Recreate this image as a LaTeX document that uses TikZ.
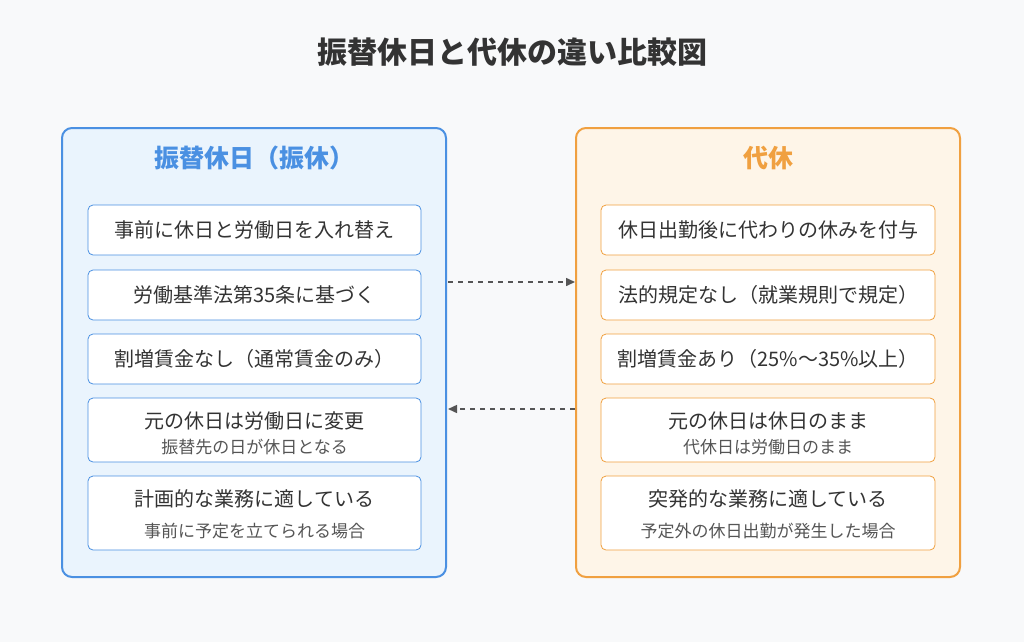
\documentclass[tikz,border=0pt]{standalone}
\usepackage{fontspec}
\setmainfont{Noto Sans CJK JP}
\usetikzlibrary{arrows.meta}
\definecolor{bg}{HTML}{F8F9FA}
\definecolor{bl}{HTML}{4A90E2}
\definecolor{blf}{HTML}{EAF4FD}
\definecolor{og}{HTML}{F0A040}
\definecolor{ogf}{HTML}{FEF5E8}
\definecolor{tx}{HTML}{333333}
\definecolor{sub}{HTML}{555555}
\tikzset{x=1pt,y=-1pt,
 panel/.style={rounded corners=10pt,line width=2pt},
 item/.style={rounded corners=5pt,line width=0.8pt,fill=white},
 t/.style={font=\fontsize{20}{24}\selectfont,text=tx},
 s/.style={font=\fontsize{17}{20}\selectfont,text=sub},
 conn/.style={dashed,line width=1.5pt,draw=sub,dash pattern=on 5pt off 5pt,-{Triangle[length=9pt,width=8pt]}}}
\begin{document}
\begin{tikzpicture}
\fill[bg] (0,0) rectangle (1024,642);
\useasboundingbox (0,0) rectangle (1024,642);
\node[font=\fontsize{30}{34}\selectfont\bfseries,text=tx] (title) at (512,52) {振替休日と代休の違い比較図};
\draw[panel,draw=bl,fill=blf] (62,128) rectangle (446,577);
\draw[panel,draw=og,fill=ogf] (576,128) rectangle (960,577);
\node[font=\fontsize{25}{28}\selectfont\bfseries,text=bl] (lt) at (254,158) {振替休日（振休）};
\node[font=\fontsize{25}{28}\selectfont\bfseries,text=og] (rt) at (768,158) {代休};
% left items
\draw[item,draw=bl] (88,205) rectangle (421,255);
\draw[item,draw=bl] (88,270) rectangle (421,320);
\draw[item,draw=bl] (88,334) rectangle (421,384);
\draw[item,draw=bl] (88,398) rectangle (421,462);
\draw[item,draw=bl] (88,476) rectangle (421,550);
\node[t] (l1) at (254.5,230) {事前に休日と労働日を入れ替え};
\node[t] (l2) at (254.5,295) {労働基準法第35条に基づく};
\node[t] (l3) at (254.5,359) {割増賃金なし（通常賃金のみ）};
\node[t] (l4) at (254.5,421) {元の休日は労働日に変更};
\node[s] (l4s) at (254.5,447) {振替先の日が休日となる};
\node[t] (l5) at (254.5,499) {計画的な業務に適している};
\node[s] (l5s) at (254.5,531) {事前に予定を立てられる場合};
% right items
\draw[item,draw=og] (601,205) rectangle (935,255);
\draw[item,draw=og] (601,270) rectangle (935,320);
\draw[item,draw=og] (601,334) rectangle (935,384);
\draw[item,draw=og] (601,398) rectangle (935,462);
\draw[item,draw=og] (601,476) rectangle (935,550);
\node[t] (r1) at (768,230) {休日出勤後に代わりの休みを付与};
\node[t] (r2) at (768,295) {法的規定なし（就業規則で規定）};
\node[t] (r3) at (768,359) {割増賃金あり（25\%〜35\%以上）};
\node[t] (r4) at (768,421) {元の休日は休日のまま};
\node[s] (r4s) at (768,447) {代休日は労働日のまま};
\node[t] (r5) at (768,499) {突発的な業務に適している};
\node[s] (r5s) at (768,531) {予定外の休日出勤が発生した場合};
\coordinate (a1) at (448,282); \coordinate (b1) at (575,282);
\coordinate (a2) at (575,409); \coordinate (b2) at (448,409);
\draw[conn] (a1) -- (b1);
\draw[conn] (a2) -- (b2);
\end{tikzpicture}
\end{document}
